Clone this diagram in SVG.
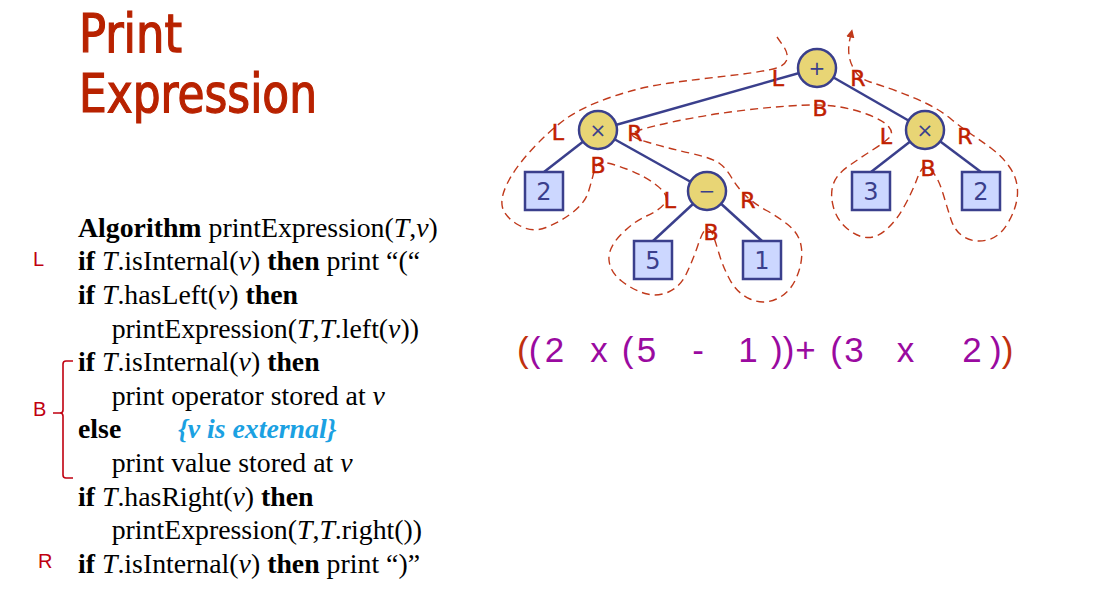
<svg xmlns="http://www.w3.org/2000/svg" width="1105" height="611" viewBox="0 0 1105 611">
<style>
.title{font-family:"DejaVu Sans Condensed","DejaVu Sans",sans-serif;font-size:53px;fill:#B82200;stroke:#B82200;stroke-width:1.2}
.code{font-family:"Liberation Serif","Times New Roman",serif;font-size:27.8px;fill:#000}
.b{font-weight:bold}
.i{font-style:italic}
.note{font-weight:bold;font-style:italic;fill:#1BA1E2}
.side{font-family:"Liberation Sans",Arial,sans-serif;font-size:20px;fill:#C00010}
.edge{stroke:#3A3F8C;stroke-width:2.5;fill:none}
.inner{fill:#E8D575;stroke:#3A3F8C;stroke-width:2.5}
.leaf{fill:#CCD7FF;stroke:#3A3F8C;stroke-width:2.5}
.ntext{font-family:"DejaVu Sans",Verdana,sans-serif;font-size:24px;fill:#3A3F8C;text-anchor:middle}
.otext{font-family:"DejaVu Sans",Verdana,sans-serif;font-size:20px;fill:#3A3F8C;text-anchor:middle}
.tour{fill:none;stroke:#C0391B;stroke-width:1.4;stroke-dasharray:8 5}
.lbl{font-family:"DejaVu Sans",Verdana,sans-serif;font-size:22px;fill:#C02000;stroke:#C02000;stroke-width:0.5;text-anchor:middle}
.expr{font-family:"Liberation Sans",Arial,sans-serif;font-size:35px;fill:#9A0AA0;text-anchor:middle}
.st{text-anchor:start}
.rp{fill:#C03010}
</style>
<defs>
<marker id="arr" viewBox="0 0 10 10" refX="9" refY="5" markerWidth="6" markerHeight="6" orient="auto" markerUnits="strokeWidth">
<path d="M0,0 L10,5 L0,10 z" fill="#C0391B"/>
</marker>
</defs>
<rect width="1105" height="611" fill="#fff"/>

<g id="title">
<text class="title" x="79" y="52" textLength="103" lengthAdjust="spacingAndGlyphs">Print</text>
<text class="title" x="79" y="112" textLength="238" lengthAdjust="spacingAndGlyphs">Expression</text>
</g>

<g id="algorithm" class="code">
<text x="78" y="236.5"><tspan class="b">Algorithm</tspan> printExpression(<tspan class="i">T</tspan>,<tspan class="i">v</tspan>)</text>
<text x="78" y="270.2"><tspan class="b">if </tspan><tspan class="i">T</tspan>.isInternal(<tspan class="i">v</tspan>) <tspan class="b">then</tspan> print “(“</text>
<text x="78" y="303.8"><tspan class="b">if </tspan><tspan class="i">T</tspan>.hasLeft(<tspan class="i">v</tspan>) <tspan class="b">then</tspan></text>
<text x="111.7" y="337.5">printExpression(<tspan class="i">T</tspan>,<tspan class="i">T</tspan>.left(<tspan class="i">v</tspan>))</text>
<text x="78" y="371.1"><tspan class="b">if </tspan><tspan class="i">T</tspan>.isInternal(<tspan class="i">v</tspan>) <tspan class="b">then</tspan></text>
<text x="111.7" y="404.8">print operator stored at <tspan class="i">v</tspan></text>
<text x="78" y="438.4"><tspan class="b">else</tspan></text>
<text x="178" y="438.4" class="note">{v is external}</text>
<text x="111.7" y="472.1">print value stored at <tspan class="i">v</tspan></text>
<text x="78" y="505.7"><tspan class="b">if </tspan><tspan class="i">T</tspan>.hasRight(<tspan class="i">v</tspan>) <tspan class="b">then</tspan></text>
<text x="111.7" y="539.4">printExpression(<tspan class="i">T</tspan>,<tspan class="i">T</tspan>.right())</text>
<text x="78" y="573"><tspan class="b">if </tspan><tspan class="i">T</tspan>.isInternal(<tspan class="i">v</tspan>) <tspan class="b">then</tspan> print “)”</text>
</g>

<g id="side-labels">
<text class="side" x="33" y="266">L</text>
<text class="side" x="33" y="416">B</text>
<text class="side" x="38" y="568">R</text>
<path d="M73,361 L66,361 Q63,361 63,364 L63,410 Q63,413 60,413 L53,413 M60,413 Q63,413 63,416 L63,475 Q63,478 66,478 L73,478" fill="none" stroke="#C00010" stroke-width="1.6"/>
</g>

<g id="connectors">
<line class="edge" x1="817" y1="68" x2="598" y2="130"/>
<line class="edge" x1="817" y1="68" x2="925" y2="130"/>
<line class="edge" x1="598" y1="130" x2="544" y2="172"/>
<line class="edge" x1="598" y1="130" x2="707" y2="191"/>
<line class="edge" x1="707" y1="191" x2="653" y2="241"/>
<line class="edge" x1="707" y1="191" x2="762" y2="241"/>
<line class="edge" x1="925" y1="130" x2="871" y2="172"/>
<line class="edge" x1="925" y1="130" x2="981" y2="172"/>
</g>

<g id="node-plus"><circle class="inner" cx="817" cy="68" r="19"/><text class="otext" x="817" y="75">+</text></g>
<g id="node-times-left"><circle class="inner" cx="598" cy="130" r="19"/><text class="otext" x="598" y="137">×</text></g>
<g id="node-times-right"><circle class="inner" cx="925" cy="130" r="19"/><text class="otext" x="925" y="137">×</text></g>
<g id="node-minus"><circle class="inner" cx="707" cy="191" r="19"/><text class="otext" x="707" y="198">−</text></g>
<g id="leaf-2a"><rect class="leaf" x="525" y="172" width="38" height="38"/><text class="ntext" x="544" y="200">2</text></g>
<g id="leaf-5"><rect class="leaf" x="634" y="241" width="38" height="38"/><text class="ntext" x="653" y="269">5</text></g>
<g id="leaf-1"><rect class="leaf" x="743" y="241" width="38" height="38"/><text class="ntext" x="762" y="269">1</text></g>
<g id="leaf-3"><rect class="leaf" x="852" y="172" width="38" height="38"/><text class="ntext" x="871" y="200">3</text></g>
<g id="leaf-2b"><rect class="leaf" x="962" y="172" width="38" height="38"/><text class="ntext" x="981" y="200">2</text></g>

<g id="euler-tour">
<path class="tour" marker-end="url(#arr)" d="M777,37 L783,45.5 Q789,54 786.5,60.5 Q784,67 768.5,70 Q753,73 726.5,76 Q700,79 670,83 Q640,87 610,97.5 Q580,108 563.5,120.5 Q547,133 531,150.5 Q515,168 507.5,183 Q500,198 502.5,207.5 Q505,217 518.5,225 Q532,233 546,227.5 Q560,222 572.5,212.5 Q585,203 588.5,191.5 Q592,180 594,171.5 Q596,163 602,162.5 Q608,162 626.5,169 Q645,176 657.5,186 Q670,196 665,203 Q660,210 646.5,216 Q633,222 620.5,235 Q608,248 609,260 Q610,272 621.5,281 Q633,290 645,293.5 Q657,297 668.5,292 Q680,287 686.5,273.5 Q693,260 698,245 Q703,230 706.5,229 Q710,228 712.5,234 Q715,240 719,253.5 Q723,267 730,280 Q737,293 750,299 Q763,305 776.5,299 Q790,293 796.5,277.5 Q803,262 801.5,248.5 Q800,235 790,226.5 Q780,218 766.5,210.5 Q753,203 745,195 Q737,187 731.5,177.5 Q726,168 719,163 Q712,158 689.5,153 Q667,148 647,142 Q627,136 633.5,132.5 Q640,129 670,122.5 Q700,116 730,112 Q760,108 788.5,106 Q817,104 833.5,106 Q850,108 866.5,114 Q883,120 888.5,126.5 Q894,133 889.5,137.5 Q885,142 872.5,150 Q860,158 848,166.5 Q836,175 833,185 Q830,195 833.5,207.5 Q837,220 847,228.5 Q857,237 867,237.5 Q877,238 887,229 Q897,220 905,205 Q913,190 917,179 Q921,168 924.5,167 Q928,166 933.5,173 Q939,180 943,193.5 Q947,207 951,219.5 Q955,232 965,237.5 Q975,243 987.5,240 Q1000,237 1008.5,222 Q1017,207 1017.5,193.5 Q1018,180 1010.5,168.5 Q1003,157 991.5,148.5 Q980,140 971,134 Q962,128 951,119 Q940,110 926.5,103.5 Q913,97 896.5,91 Q880,85 870,82 Q860,79 855,71 Q850,63 849,55 Q848,47 850,38.5 L852,30"/>
<text class="lbl" x="778" y="86">L</text>
<text class="lbl" x="858" y="86">R</text>
<text class="lbl" x="820" y="116">B</text>
<text class="lbl" x="558" y="140">L</text>
<text class="lbl" x="635" y="141">R</text>
<text class="lbl" x="598" y="173">B</text>
<text class="lbl" x="670" y="208">L</text>
<text class="lbl" x="748" y="208">R</text>
<text class="lbl" x="711" y="240">B</text>
<text class="lbl" x="886" y="144">L</text>
<text class="lbl" x="965" y="144">R</text>
<text class="lbl" x="928" y="176">B</text>
</g>

<g id="expression" class="expr">
<text x="517" y="362" class="st"><tspan class="rp">(</tspan>(</text>
<text x="554.5" y="362">2</text>
<text x="599" y="362">x</text>
<text x="627.5" y="362">(</text>
<text x="646.5" y="362">5</text>
<text x="698" y="362">-</text>
<text x="748" y="362">1</text>
<text x="771" y="362" class="st">))</text>
<text x="805.5" y="362">+</text>
<text x="836" y="362">(</text>
<text x="854" y="362">3</text>
<text x="905.5" y="362">x</text>
<text x="972" y="362">2</text>
<text x="990" y="362" class="st">)<tspan class="rp">)</tspan></text>
</g>
</svg>
